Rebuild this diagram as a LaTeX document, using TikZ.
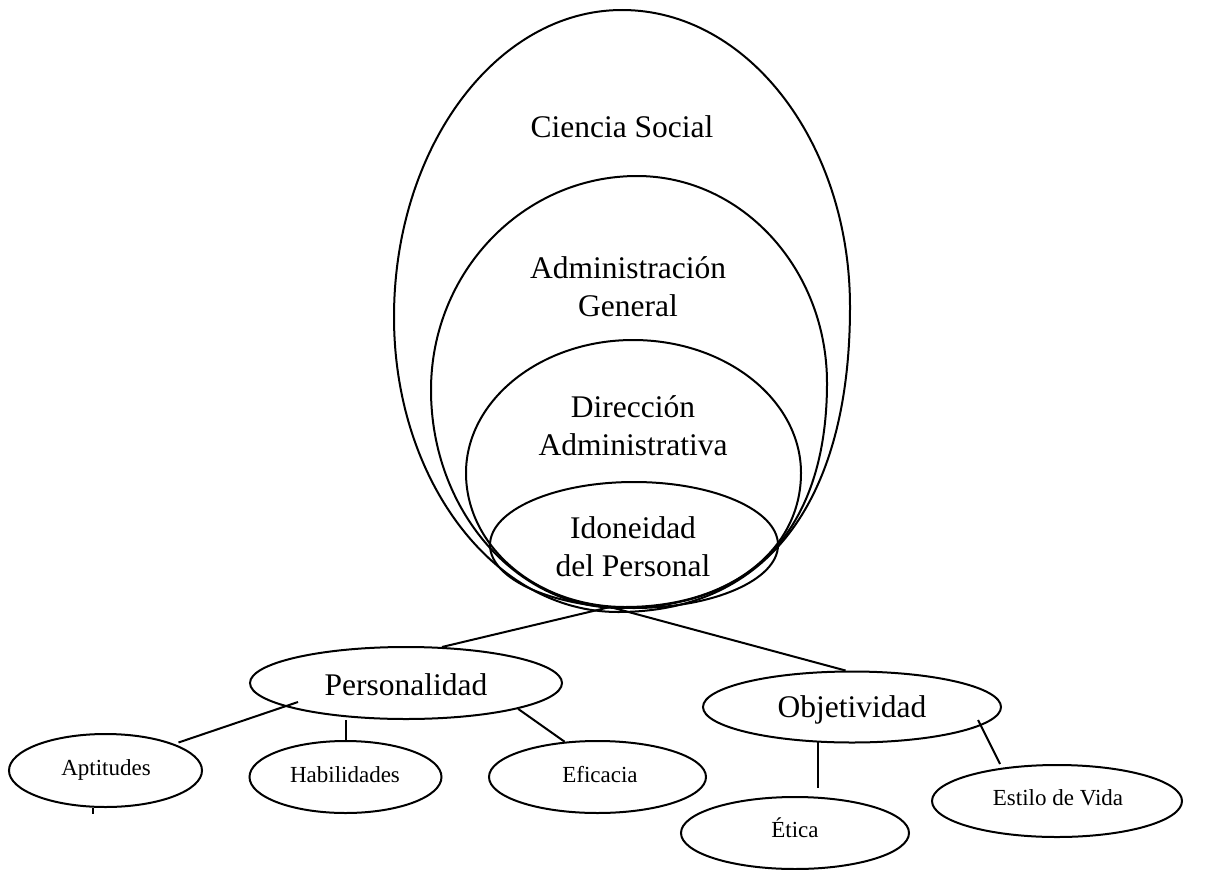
\documentclass[tikz,border=0pt]{standalone}
\usepackage{fontspec}
\setmainfont{Liberation Serif}
\usetikzlibrary{shapes.geometric,calc}
\begin{document}
\begin{tikzpicture}[x=1pt,y=-1pt,
  shell/.style={draw, line width=2pt},
  bubble/.style={draw, ellipse, line width=2pt, inner sep=0pt},
  big/.style={font=\fontsize{31.5}{37.5}\selectfont, anchor=base, inner sep=0pt, align=center},
  small/.style={font=\fontsize{23}{27}\selectfont, anchor=base, inner sep=0pt},
  link/.style={line width=2pt}]
\useasboundingbox (0,0) rectangle (1210,870);

% nested fields, outermost first (egg-like outlines meeting at the bottom)
\draw[shell] (622,10) .. controls (748,10) and (850,143) .. (850,307)
  .. controls (850,500) and (768,612) .. (618,612)
  .. controls (494,612) and (394,480) .. (394,317)
  .. controls (394,148) and (496,10) .. (622,10) -- cycle;
\draw[shell] (637,176) .. controls (742,176) and (827,269) .. (827,383)
  .. controls (827,515) and (765,608) .. (620,608)
  .. controls (516,608) and (431,510) .. (431,390)
  .. controls (431,272) and (523,176) .. (637,176) -- cycle;
\draw[shell] (633,340) .. controls (726,340) and (801,400) .. (801,473)
  .. controls (801,550) and (730,607) .. (625,607)
  .. controls (537,607) and (466,547) .. (466,473)
  .. controls (466,400) and (541,340) .. (633,340) -- cycle;
\node[bubble, minimum width=288pt, minimum height=126pt] (idoneidad) at (634,545) {};

\node[big] (t-ciencia) at (622,137) {Ciencia Social};
\node[big] (t-admin) at (628,316) {Administración\\General};
\node[big] (t-direccion) at (633,455) {Dirección\\Administrativa};
\node[big] (t-idoneidad) at (633,576) {Idoneidad\\del Personal};

% second level
\node[bubble, minimum width=312pt, minimum height=72pt] (pers) at (406,683) {};
\node[bubble, minimum width=298pt, minimum height=71pt] (obj) at (852,707) {};
\node[big] (t-pers) at (406,695) {Personalidad};
\node[big] (t-obj) at (852,717) {Objetividad};

% third level
\node[bubble, minimum width=193pt, minimum height=73pt] (apt) at (105.5,770.5) {};
\node[bubble, minimum width=192pt, minimum height=72pt] (hab) at (345.5,777) {};
\node[bubble, minimum width=217pt, minimum height=72pt] (efi) at (597.5,777) {};
\node[bubble, minimum width=228pt, minimum height=72pt] (etica) at (795,833) {};
\node[bubble, minimum width=250pt, minimum height=72pt] (estilo) at (1057,801) {};
\node[small] (t-apt) at (106,775) {Aptitudes};
\node[small] (t-hab) at (345,782) {Habilidades};
\node[small] (t-efi) at (600,782) {Eficacia};
\node[small] (t-etica) at (795,837) {Ética};
\node[small] (t-estilo) at (1058,805) {Estilo de Vida};

% connectors
\coordinate (apex) at ($(idoneidad.south)+(-24,-2)$);
\draw[link] (apex) -- (pers.45);
\draw[link] (apex) -- (obj.100);
\draw[link] ($(pers.center)+(-108,19)$) -- ($(apt.center)+(73,-28)$);
\draw[link] (hab.north) -- (hab.north |- pers.south);
\draw[link] (pers.-13.4) -- (efi.133);
\draw[link] ($(obj.center)+(-34,35)$) -- ($(etica.center)+(23,-45)$);
\draw[link] ($(obj.center)+(126,13)$) -- ($(estilo.center)+(-57,-37)$);
\draw[link] ($(apt.center)+(-13,37)$) -- ++(0,6);
\end{tikzpicture}
\end{document}
